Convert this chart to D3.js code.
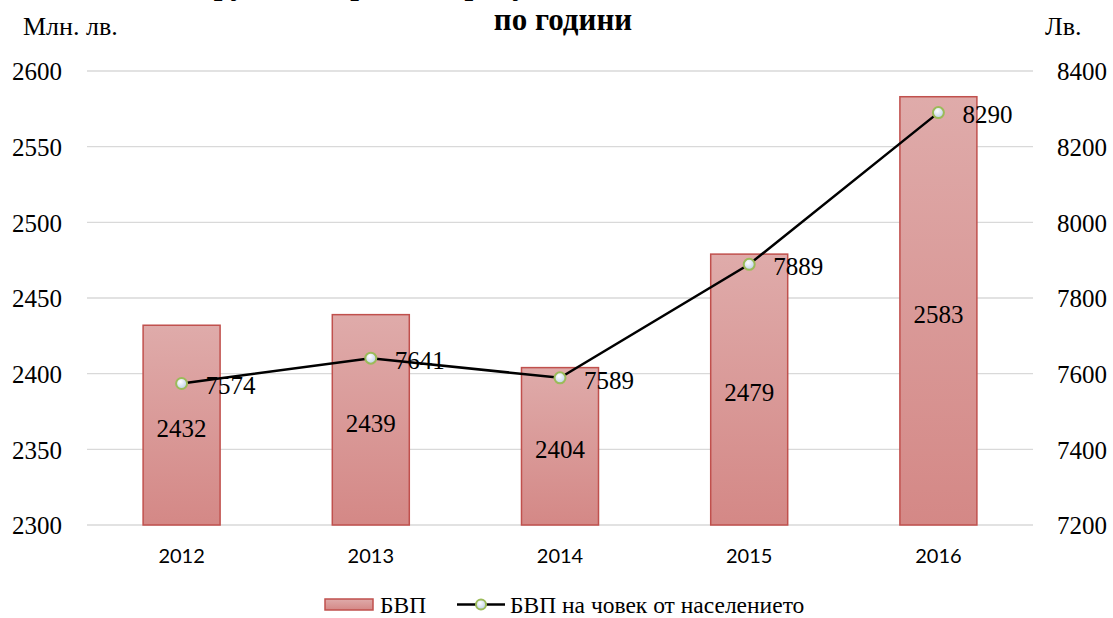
<!DOCTYPE html>
<html><head><meta charset="utf-8">
<script src="https://cdn.jsdelivr.net/npm/d3@7"></script>
<style>
body{margin:0;background:#fff}svg{display:block}
.serif{font-family:"Liberation Serif","Times New Roman",Times,serif}
.sans{font-family:Lato,"Open Sans",sans-serif}
</style>
</head><body>
<svg id="c" width="1113" height="618"></svg>
<script>
const years = ["2012","2013","2014","2015","2016"];
const gdp = [2432, 2439, 2404, 2479, 2583];
const gdpPerCapita = [7574, 7641, 7589, 7889, 8290];
const leftTicks = [2300, 2350, 2400, 2450, 2500, 2550, 2600];
const rightTicks = [7200, 7400, 7600, 7800, 8000, 8200, 8400];
const titleLine1 = "Брутен вътрешен продукт и БВП на човек от населението";
const titleLine2 = "по години";
const leftUnit = "Млн. лв.";
const rightUnit = "Лв.";
const seriesNames = ["БВП", "БВП на човек от населението"];

const svg = d3.select("#c");
const L = 87, R = 1033, T = 71, B = 525;

const defs = svg.append("defs");
const g1 = defs.append("linearGradient").attr("id","barg").attr("x1",0).attr("y1",0).attr("x2",0).attr("y2",1);
g1.append("stop").attr("offset","0%").attr("stop-color","#dfabaa");
g1.append("stop").attr("offset","100%").attr("stop-color","#d48886");
const g2 = defs.append("radialGradient").attr("id","mk").attr("cx","40%").attr("cy","35%").attr("r","70%");
g2.append("stop").attr("offset","0%").attr("stop-color","#ffffff");
g2.append("stop").attr("offset","100%").attr("stop-color","#b9cde5");

const x = d3.scaleBand().domain(years).range([L, R]).paddingInner(0.593).paddingOuter(0.2965);
const yL = d3.scaleLinear().domain([2300, 2600]).range([B, T]);
const yR = d3.scaleLinear().domain([7200, 8400]).range([B, T]);

// gridlines
svg.append("g").selectAll("line").data(leftTicks).join("line")
  .attr("x1", L).attr("x2", R).attr("y1", d => yL(d)).attr("y2", d => yL(d))
  .attr("stroke", "#d9d9d9").attr("stroke-width", 1.3);

// left axis
const axL = svg.append("g").attr("transform", `translate(${L},0)`)
  .call(d3.axisLeft(yL).tickValues(leftTicks).tickSize(0).tickPadding(25).tickFormat(d3.format("d")));
axL.attr("font-family", null).attr("font-size", null);
axL.select(".domain").remove();
axL.selectAll("text").attr("class","serif").style("font-size","25px").attr("fill", "#000").attr("dy","0.35em");

// right axis
const axR = svg.append("g").attr("transform", `translate(${R},0)`)
  .call(d3.axisRight(yR).tickValues(rightTicks).tickSize(0).tickPadding(24).tickFormat(d3.format("d")));
axR.attr("font-family", null).attr("font-size", null);
axR.select(".domain").remove();
axR.selectAll("text").attr("class","serif").style("font-size","25px").attr("fill", "#000").attr("dy","0.35em");

// bottom axis
const axB = svg.append("g").attr("transform", `translate(0,${B})`)
  .call(d3.axisBottom(x).tickSize(0).tickPadding(24));
axB.attr("font-family", null).attr("font-size", null);
axB.select(".domain").remove();
axB.selectAll("text").attr("class","sans").style("font-size","20px").attr("fill", "#000");

// bars
svg.append("g").selectAll("rect").data(years).join("rect")
  .attr("x", d => x(d)).attr("width", x.bandwidth())
  .attr("y", (d,i) => yL(gdp[i])).attr("height", (d,i) => B - yL(gdp[i]))
  .attr("fill", "url(#barg)").attr("stroke", "#c0504d").attr("stroke-width", 1.5);

// bar labels
svg.append("g").selectAll("text").data(years).join("text")
  .attr("class","serif").style("font-size","25px")
  .attr("x", d => x(d) + x.bandwidth()/2)
  .attr("y", (d,i) => (yL(gdp[i]) + B)/2 + 3)
  .attr("dy", "0.35em").attr("text-anchor", "middle")
  .text((d,i) => gdp[i]);

// line
const cx = d => x(d) + x.bandwidth()/2;
svg.append("path").datum(years)
  .attr("d", d3.line().x(d => cx(d)).y((d,i) => yR(gdpPerCapita[i])))
  .attr("fill", "none").attr("stroke", "#000").attr("stroke-width", 2.5);
svg.append("g").selectAll("circle").data(years).join("circle")
  .attr("cx", d => cx(d)).attr("cy", (d,i) => yR(gdpPerCapita[i])).attr("r", 5.5)
  .attr("fill", "url(#mk)").attr("stroke", "#9bbb59").attr("stroke-width", 2);
svg.append("g").selectAll("text").data(years).join("text")
  .attr("class","serif").style("font-size","25px")
  .attr("x", d => cx(d) + 24).attr("y", (d,i) => yR(gdpPerCapita[i]) + 2)
  .attr("dy", "0.35em").text((d,i) => gdpPerCapita[i]);

// titles
svg.append("text").attr("class","serif").attr("x", 600).attr("y", -6).attr("text-anchor","middle")
  .style("font-weight","bold").style("font-size","31px").text(titleLine1);
svg.append("text").attr("class","serif").attr("x", 563).attr("y", 30).attr("text-anchor","middle")
  .style("font-weight","bold").style("font-size","31px").text(titleLine2);
svg.append("text").attr("class","serif").attr("x", 23).attr("y", 35).style("font-size","26px").text(leftUnit);
svg.append("text").attr("class","serif").attr("x", 1045).attr("y", 35).style("font-size","26px").text(rightUnit);

// legend
const lg = svg.append("g");
lg.append("rect").attr("x", 325).attr("y", 599).attr("width", 48).attr("height", 11)
  .attr("fill", "url(#barg)").attr("stroke", "#c0504d").attr("stroke-width", 1.5);
lg.append("text").attr("class","serif").attr("x", 380).attr("y", 613).style("font-size","23.5px").text(seriesNames[0]);
lg.append("line").attr("x1", 457).attr("x2", 505).attr("y1", 604.5).attr("y2", 604.5).attr("stroke", "#000").attr("stroke-width", 2.5);
lg.append("circle").attr("cx", 481).attr("cy", 604.5).attr("r", 5).attr("fill", "url(#mk)").attr("stroke", "#9bbb59").attr("stroke-width", 2);
lg.append("text").attr("class","serif").attr("x", 510).attr("y", 613).style("font-size","23.5px").text(seriesNames[1]);
</script>
</body></html>
